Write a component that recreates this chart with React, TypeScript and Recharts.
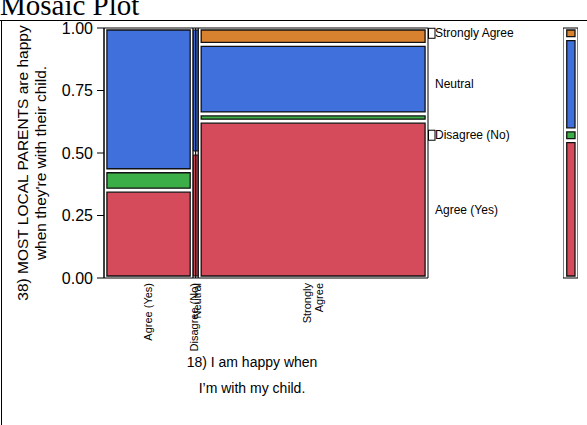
import { ComposedChart, ReferenceArea, XAxis, YAxis } from 'recharts'

const FONT = 'Arial, "Liberation Sans", sans-serif'

// x variable: columns of the mosaic
const columnTickLines = [['Agree (Yes)'], ['Disagree (No)'], ['Neutral'], ['Strongly', 'Agree']]
const columnShares = [0.275, 0.008, 0.008, 0.709]

// y variable, bottom to top
const responseNames = ['Agree (Yes)', 'Disagree (No)', 'Neutral', 'Strongly Agree']
const responseColors = ['#d64b5b', '#3cae48', '#4070dc', '#d8812f']

// share of each response inside each column
const agreeYesShares = [0.352, 0.065, 0.583, 0]
const disagreeNoShares = [0.5, 0, 0.5, 0]
const neutralShares = [0.5, 0, 0.5, 0]
const stronglyAgreeShares = [0.653, 0.014, 0.28, 0.053]
// overall shares (bar on the right)
const marginalShares = [0.57, 0.029, 0.373, 0.028]

const yTicks = [0, 0.25, 0.5, 0.75, 1]

const columnStacks = [agreeYesShares, disagreeNoShares, neutralShares, stronglyAgreeShares]

const Y_INSET = 0.008
const Y_GAP = 0.016

function stack(shares: number[]) {
  const used = shares.filter((s) => s > 0).length
  const total = shares.reduce((a, b) => a + b, 0)
  const avail = 1 - 2 * Y_INSET - Y_GAP * (used - 1)
  let y = Y_INSET
  const out: { y1: number; y2: number; i: number }[] = []
  shares.forEach((s, i) => {
    if (s <= 0) return
    const h = (s / total) * avail
    out.push({ y1: y, y2: y + h, i })
    y += h + Y_GAP
  })
  return out
}

let acc = 0
const columnBounds = columnShares.map((s) => {
  const b = { x1: acc, x2: acc + s }
  acc += s
  return b
})
const columnCenters = columnBounds.map((b) => (b.x1 + b.x2) / 2)

const marginalStack = stack(marginalShares)
const labelCenters = marginalStack.map((s) => (s.y1 + s.y2) / 2)

// rows so the chart has data behind its axes
const cells = columnBounds.map((b, c) => ({ x: columnCenters[c], y: 0.5 }))

function ColumnTick(props: any) {
  const { x, y, payload } = props
  const idx = columnCenters.indexOf(payload.value)
  const lines = columnTickLines[idx] ?? []
  return (
    <g transform={`translate(${x},${y + 5}) rotate(-90)`}>
      {lines.map((line, k) => (
        <text key={k} x={0} y={(k - (lines.length - 1) / 2) * 12} dy="0.35em" textAnchor="end" fontSize={11} fontFamily={FONT} fill="#000">
          {line}
        </text>
      ))}
    </g>
  )
}

function ResponseTick(props: any) {
  const { x, y, payload } = props
  const idx = labelCenters.indexOf(payload.value)
  const boxed = marginalShares[idx] < 0.05
  return (
    <g>
      {boxed && <rect x={x + 0.5} y={y - 5} width={6.5} height={10} fill="none" stroke="#000" strokeWidth={1} />}
      <text x={x + 7} y={y} dy="0.35em" fontSize={12} fontFamily={FONT} fill="#000">
        {responseNames[idx]}
      </text>
    </g>
  )
}

function MosaicChart() {
  return (
    <ComposedChart width={587} height={425} data={cells} margin={{ top: 28, right: 158, bottom: 67, left: 44 }}>
      <XAxis
        xAxisId="x"
        dataKey="x"
        type="number"
        domain={[0, 1]}
        allowDataOverflow
        ticks={columnCenters}
        interval={0}
        axisLine={false}
        tickLine={false}
        tickSize={0}
        tickMargin={0}
        height={80}
        tick={<ColumnTick />}
      />
      <YAxis
        yAxisId="y"
        dataKey="y"
        type="number"
        domain={[0, 1]}
        allowDataOverflow
        ticks={yTicks}
        interval={0}
        width={60}
        tickSize={7}
        tickMargin={4}
        tickFormatter={(v: number) => v.toFixed(2)}
        axisLine={{ stroke: '#000' }}
        tickLine={{ stroke: '#000' }}
        tick={{ fontSize: 16, fill: '#000', fontFamily: FONT }}
      />
      <YAxis
        yAxisId="r"
        dataKey="y"
        orientation="right"
        type="number"
        domain={[0, 1]}
        allowDataOverflow
        ticks={labelCenters}
        interval={0}
        width={1}
        axisLine={false}
        tickLine={false}
        tickSize={0}
        tickMargin={0}
        tick={<ResponseTick />}
      />
      {columnBounds.map((b, c) => (
        <ReferenceArea key={`o${c}`} xAxisId="x" yAxisId="y" x1={b.x1} x2={b.x2} y1={0} y2={1} fill="#fff" fillOpacity={1} stroke="#000" strokeWidth={1} ifOverflow="visible" />
      ))}
      {columnBounds.flatMap((b, c) => {
        const w = b.x2 - b.x1
        const thin = w < 0.05
        const inset = thin ? w * 0.1 : 0.009
        return stack(columnStacks[c]).map((s) => (
          <ReferenceArea
            key={`s${c}-${s.i}`}
            xAxisId="x"
            yAxisId="y"
            x1={b.x1 + inset}
            x2={b.x2 - inset}
            y1={s.y1}
            y2={s.y2}
            fill={responseColors[s.i]}
            fillOpacity={1}
            stroke="#111"
            strokeWidth={thin ? 1 : 1.3}
            ifOverflow="visible"
          />
        ))
      })}
    </ComposedChart>
  )
}

function MarginalBar() {
  return (
    <ComposedChart width={15} height={425} data={cells} margin={{ top: 28, right: 0, bottom: 147, left: 0 }}>
      <XAxis xAxisId="x" dataKey="x" type="number" domain={[0, 1]} allowDataOverflow hide />
      <YAxis yAxisId="y" dataKey="y" type="number" domain={[0, 1]} allowDataOverflow hide />
      <ReferenceArea xAxisId="x" yAxisId="y" x1={0} x2={1} y1={0} y2={1} fill="#fff" fillOpacity={1} stroke="#000" strokeWidth={1} ifOverflow="visible" />
      {marginalStack.map((s) => (
        <ReferenceArea
          key={s.i}
          xAxisId="x"
          yAxisId="y"
          x1={0.25}
          x2={0.8}
          y1={s.y1}
          y2={s.y2}
          fill={responseColors[s.i]}
          fillOpacity={1}
          stroke="#111"
          strokeWidth={1.3}
          ifOverflow="visible"
        />
      ))}
    </ComposedChart>
  )
}

export default function App() {
  return (
    <div style={{ position: 'fixed', left: 0, top: 0, width: 587, height: 425, background: '#fff', overflow: 'hidden' }}>
      <div style={{ position: 'absolute', left: 0, top: 0 }}>
        <MosaicChart />
      </div>
      <div style={{ position: 'absolute', left: 563, top: 0 }}>
        <MarginalBar />
      </div>
      <svg width={587} height={425} style={{ position: 'absolute', left: 0, top: 0, pointerEvents: 'none' }}>
        <text x={0} y={15} fontSize={29} fontFamily='"Liberation Serif", "Times New Roman", serif' fill="#000">
          Mosaic Plot
        </text>
        <line x1={0} y1={20.5} x2={587} y2={20.5} stroke="#000" strokeWidth={1} />
        <line x1={1.5} y1={20} x2={1.5} y2={425} stroke="#000" strokeWidth={1} />
        <text transform="translate(28,163) rotate(-90)" textAnchor="middle" fontSize={15.5} fontFamily={FONT} fill="#000">
          <tspan x={0} y={0}>38) MOST LOCAL PARENTS are happy</tspan>
          <tspan x={0} y={18}>when they're with their child.</tspan>
        </text>
        <text x={252} y={367} textAnchor="middle" fontSize={14} fontFamily={FONT} fill="#000">
          18) I am happy when
        </text>
        <text x={252} y={393} textAnchor="middle" fontSize={14} fontFamily={FONT} fill="#000">
          I’m with my child.
        </text>
      </svg>
    </div>
  )
}
